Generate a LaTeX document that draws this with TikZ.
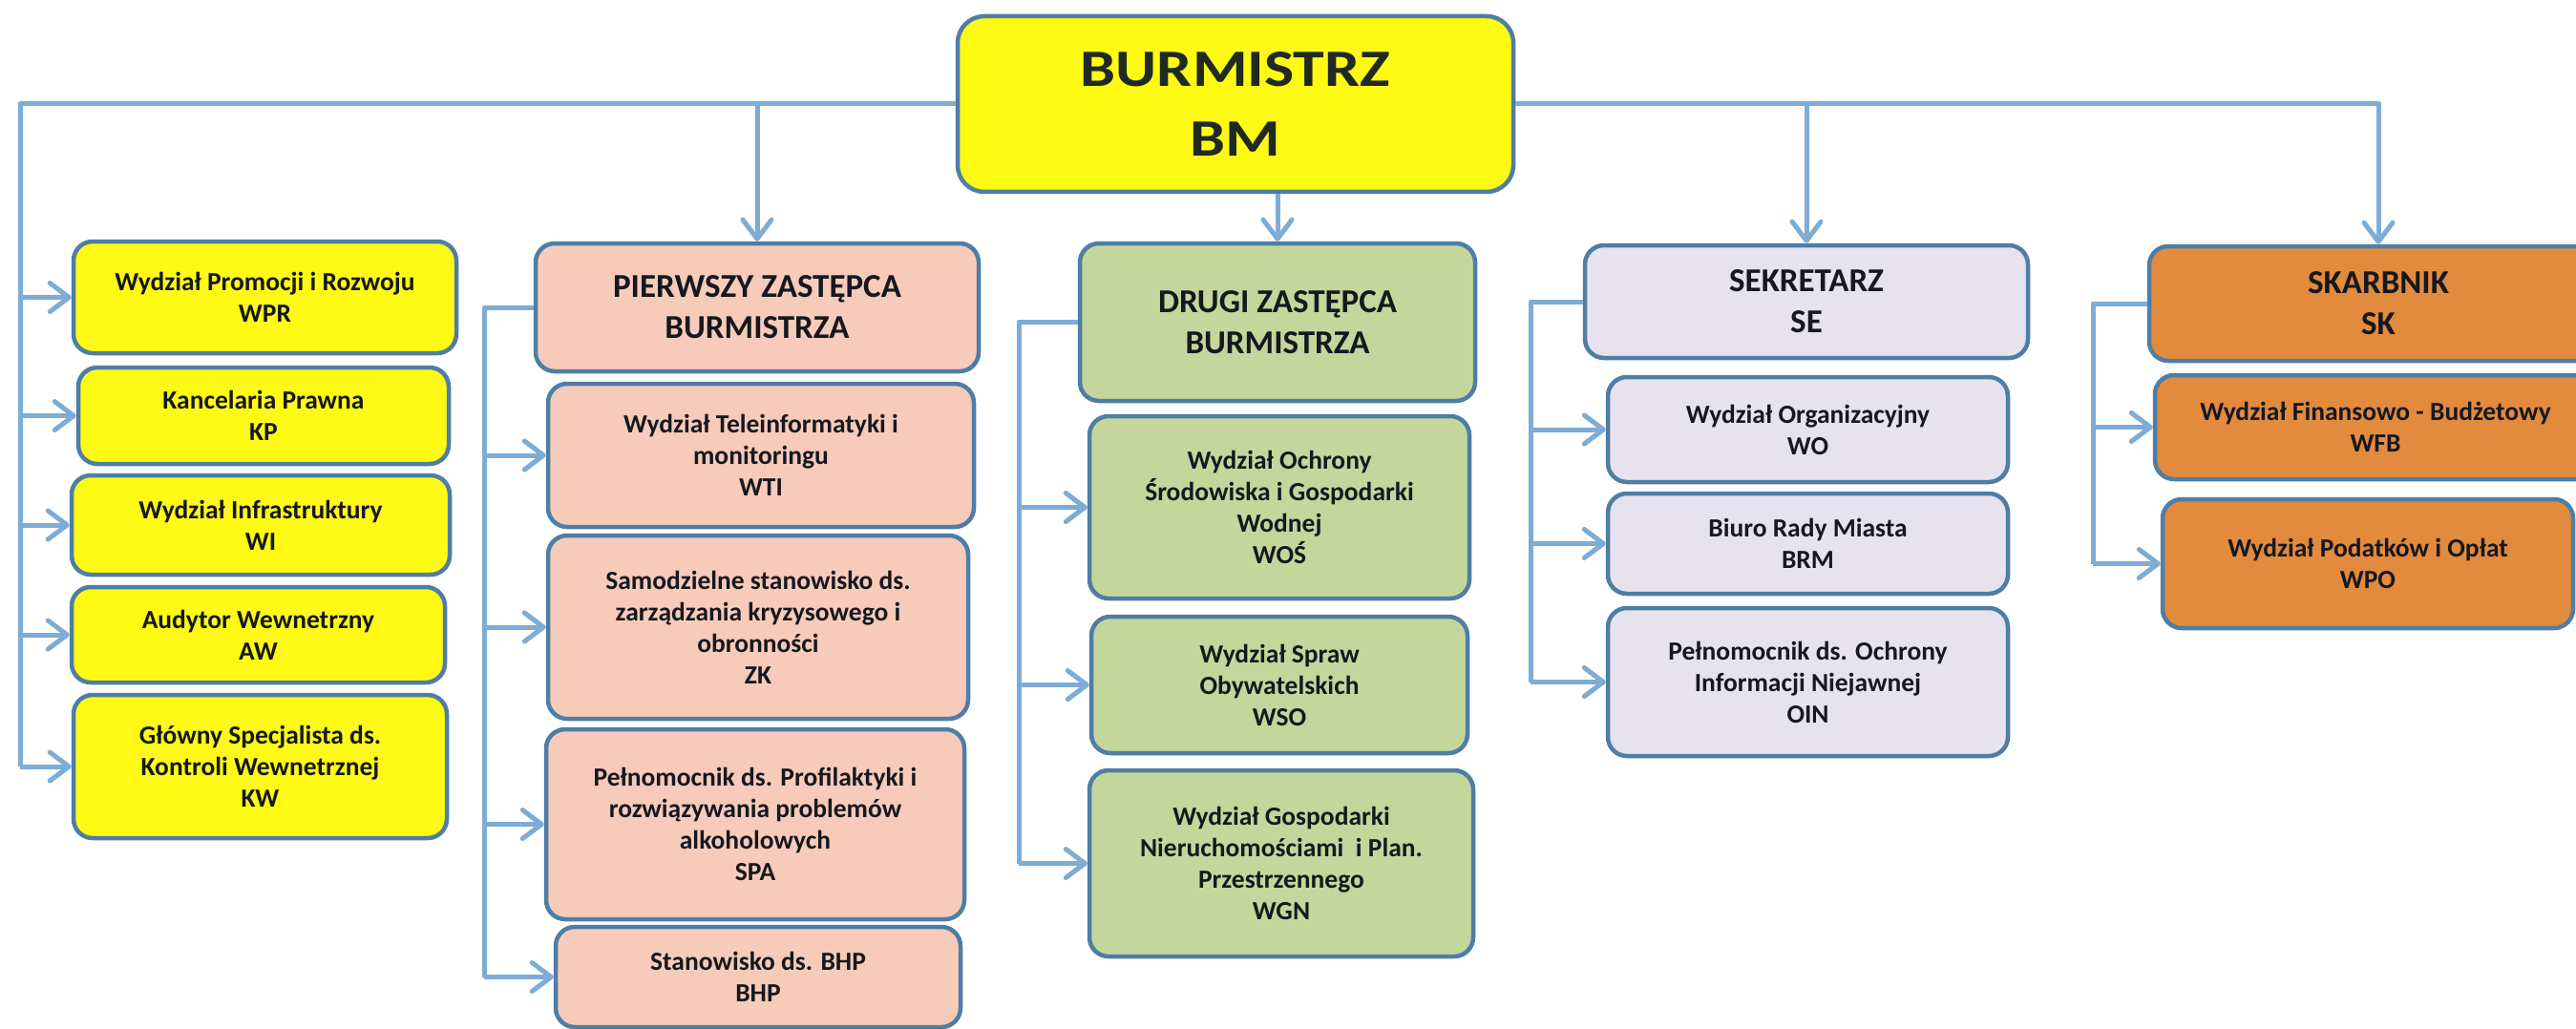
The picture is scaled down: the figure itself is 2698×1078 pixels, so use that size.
\documentclass[tikz,border=0pt]{standalone}
\usepackage{fontspec}
\setmainfont{Carlito}
\newfontfamily\bmfont{Carlito}[FakeStretch=1.2]
\usetikzlibrary{arrows.meta}
\definecolor{yel}{RGB}{255,250,20}
\definecolor{peach}{RGB}{246,203,186}
\definecolor{grn}{RGB}{196,214,155}
\definecolor{lav}{RGB}{230,226,238}
\definecolor{org}{RGB}{226,138,62}
\definecolor{boxline}{RGB}{78,126,165}
\definecolor{linec}{RGB}{125,172,212}
\definecolor{txt}{RGB}{22,24,30}
\tikzset{
  box/.style={draw=boxline, line width=4.5pt, rounded corners=20pt, align=center,
    inner sep=0pt, text=txt, font=\fontsize{27.5}{33}\selectfont\bfseries},
  head/.style={box, font=\fontsize{35}{43}\selectfont\bfseries},
  conn/.style={draw=linec, line width=5pt, line join=round},
  arr/.style={conn, -{Straight Barb[length=20pt,width=30pt,round]}},
}
\begin{document}
\begin{tikzpicture}[x=1pt,y=-1pt]
\useasboundingbox (0,0) rectangle (2698,1078);
\clip (0,0) rectangle (2698,1078);
\fill[white] (0,0) rectangle (2698,1078);

% trunk coordinates
\coordinate (Lx) at (21,0);
\coordinate (Px) at (507,0);
\coordinate (Dx) at (1067,0);
\coordinate (Sx) at (1603,0);
\coordinate (Kx) at (2192,0);

% top
\node[box, fill=yel, rounded corners=28pt, minimum width=582pt, minimum height=184pt,
      font=\bmfont\fontsize{55}{73}\selectfont\bfseries, text={rgb,255:red,32;green,42;blue,32}]
      (BM) at (1294,109) {BURMISTRZ\\BM};

% left column
\node[box, fill=yel, minimum width=401pt, minimum height=117pt] (WPR) at (277.5,311.5) {Wydział Promocji i Rozwoju\\WPR};
\node[box, fill=yel, minimum width=388pt, minimum height=101pt] (KP) at (276,435.5) {Kancelaria Prawna\\KP};
\node[box, fill=yel, minimum width=396pt, minimum height=104pt] (WI) at (273,550) {Wydział Infrastruktury\\WI};
\node[box, fill=yel, minimum width=391pt, minimum height=100pt] (AW) at (270.5,665) {Audytor Wewnetrzny\\AW};
\node[box, fill=yel, minimum width=391pt, minimum height=150pt] (KW) at (272.5,803) {Główny Specjalista ds.\\Kontroli Wewnetrznej\\KW};

% first deputy
\node[head, fill=peach, minimum width=464pt, minimum height=134pt] (PZ) at (793,322) {PIERWSZY ZASTĘPCA\\BURMISTRZA};
\node[box, fill=peach, minimum width=446pt, minimum height=150pt] (WTI) at (797,477) {Wydział Teleinformatyki i\\monitoringu\\WTI};
\node[box, fill=peach, minimum width=440pt, minimum height=192pt] (ZK) at (794,657) {Samodzielne stanowisko ds.\\zarządzania kryzysowego i\\obronności\\ZK};
\node[box, fill=peach, minimum width=438pt, minimum height=199pt] (SPA) at (791,863.5) {Pełnomocnik ds. Profilaktyki i\\rozwiązywania problemów\\alkoholowych\\SPA};
\node[box, fill=peach, minimum width=424pt, minimum height=105pt] (BHP) at (794,1023.5) {Stanowisko ds. BHP\\BHP};

% second deputy
\node[head, fill=grn, minimum width=414pt, minimum height=165pt] (DZ) at (1338,337.5) {DRUGI ZASTĘPCA\\BURMISTRZA};
\node[box, fill=grn, minimum width=398pt, minimum height=191pt] (WOS) at (1340,531.5) {Wydział Ochrony\\Środowiska i Gospodarki\\Wodnej\\WOŚ};
\node[box, fill=grn, minimum width=394pt, minimum height=143pt] (WSO) at (1340,717.5) {Wydział Spraw\\Obywatelskich\\WSO};
\node[box, fill=grn, minimum width=402pt, minimum height=195pt] (WGN) at (1342,904.5) {Wydział Gospodarki\\Nieruchomościami\ \ i Plan.\\Przestrzennego\\WGN};

% secretary
\node[head, fill=lav, minimum width=464pt, minimum height=118pt] (SE) at (1892,316) {SEKRETARZ\\SE};
\node[box, fill=lav, minimum width=419pt, minimum height=110pt] (WO) at (1893.5,450) {Wydział Organizacyjny\\WO};
\node[box, fill=lav, minimum width=419pt, minimum height=105pt] (BRM) at (1893.5,569.5) {Biuro Rady Miasta\\BRM};
\node[box, fill=lav, minimum width=419pt, minimum height=155pt] (OIN) at (1893.5,714.5) {Pełnomocnik ds. Ochrony\\Informacji Niejawnej\\OIN};

% treasurer
\node[head, fill=org, minimum width=480pt, minimum height=120pt] (SK) at (2491,318) {SKARBNIK\\SK};
\node[box, fill=org, minimum width=462pt, minimum height=109pt] (WFB) at (2488,447.5) {Wydział Finansowo - Budżetowy\\WFB};
\node[box, fill=org, minimum width=430pt, minimum height=135pt] (WPO) at (2480,590.5) {Wydział Podatków i Opłat\\WPO};

% connectors from BM
\draw[conn] (BM.west) -| (Lx |- KW.west);
\draw[arr] (BM.west -| PZ.north) -- (PZ.north);
\draw[arr] (DZ.north |- BM.south) -- (DZ.north);
\draw[conn] (BM.east) -- (SE.north |- BM.east);
\draw[arr] (SE.north |- BM.east) -- (SE.north);
\draw[arr] (BM.east) -| (SK.north);

% left column arrows
\foreach \n in {WPR,KP,WI,AW,KW}
  \draw[arr] (Lx |- \n.west) -- (\n.west);

% first deputy branch
\draw[conn] (PZ.west) -| (Px |- BHP.west);
\foreach \n in {WTI,ZK,SPA,BHP}
  \draw[arr] (Px |- \n.west) -- (\n.west);

% second deputy branch
\draw[conn] (DZ.west) -| (Dx |- WGN.west);
\foreach \n in {WOS,WSO,WGN}
  \draw[arr] (Dx |- \n.west) -- (\n.west);

% secretary branch
\draw[conn] (SE.west) -| (Sx |- OIN.west);
\foreach \n in {WO,BRM,OIN}
  \draw[arr] (Sx |- \n.west) -- (\n.west);

% treasurer branch
\draw[conn] (SK.west) -| (Kx |- WPO.west);
\foreach \n in {WFB,WPO}
  \draw[arr] (Kx |- \n.west) -- (\n.west);
\end{tikzpicture}
\end{document}
